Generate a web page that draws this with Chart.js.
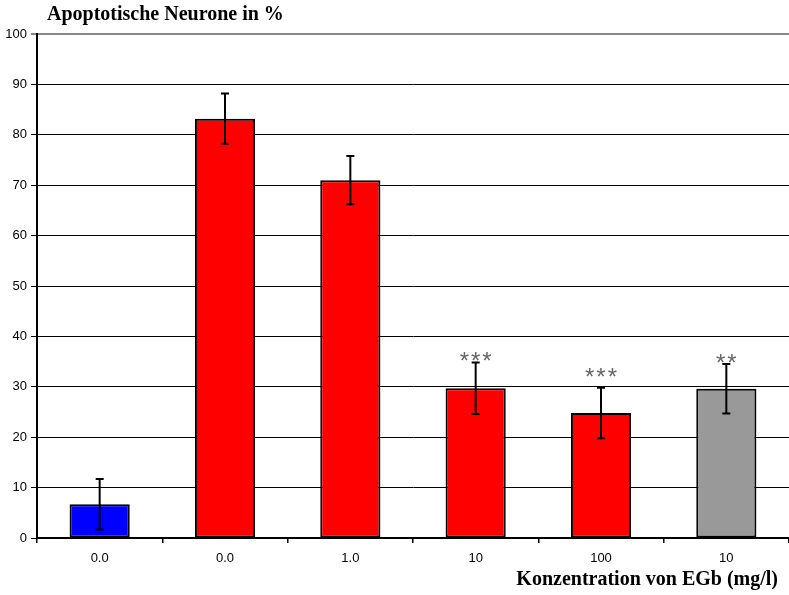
<!DOCTYPE html>
<html>
<head>
<meta charset="utf-8">
<script src="https://cdn.jsdelivr.net/npm/chart.js@4.4.1/dist/chart.umd.min.js"></script>
<style>
  html, body { margin: 0; padding: 0; background: #fff; }
  #wrap { width: 789px; height: 595px; }
</style>
</head>
<body>
<div id="wrap"><canvas id="chart" width="789" height="595"></canvas></div>
<script>
// data
const categories = ['0.0', '0.0', '1.0', '10', '100', '10'];
const values = [6.7, 83.2, 71.0, 29.7, 24.8, 29.6];
const errors = [5.0, 5.0, 4.8, 5.1, 5.0, 4.9];
const barColors = ['#0000ff', '#ff0000', '#ff0000', '#ff0000', '#ff0000', '#999999'];
const stars = ['', '', '', '***', '***', '**'];
const starLevels = [0, 0, 0, 35.8, 32.6, 35.5];
const yTicks = [0, 10, 20, 30, 40, 50, 60, 70, 80, 90, 100];

const yTitle = 'Apoptotische Neurone in %';
const xTitle = 'Konzentration von EGb (mg/l)';

const extrasPlugin = {
  id: 'extras',
  afterDatasetsDraw(chart) {
    const ctx = chart.ctx;
    const y = chart.scales.y;
    const bars = chart.getDatasetMeta(0).data;
    ctx.save();
    ctx.strokeStyle = '#000';
    ctx.lineWidth = 2;
    bars.forEach((bar, i) => {
      const top = y.getPixelForValue(values[i] + errors[i]);
      const bot = y.getPixelForValue(values[i] - errors[i]);
      ctx.beginPath();
      ctx.moveTo(bar.x, top);
      ctx.lineTo(bar.x, bot);
      ctx.moveTo(bar.x - 4, top);
      ctx.lineTo(bar.x + 4, top);
      ctx.moveTo(bar.x - 4, bot);
      ctx.lineTo(bar.x + 4, bot);
      ctx.stroke();
    });
    // significance stars
    ctx.fillStyle = '#666';
    ctx.font = '24px "Liberation Sans"';
    ctx.letterSpacing = '2px';
    ctx.textAlign = 'center';
    ctx.textBaseline = 'top';
    bars.forEach((bar, i) => {
      if (stars[i]) ctx.fillText(stars[i], bar.x + 1, y.getPixelForValue(starLevels[i]) - 7);
    });
    ctx.letterSpacing = '0px';
    ctx.fillStyle = '#000';
    ctx.font = 'bold 20px "Liberation Serif"';
    ctx.textBaseline = 'alphabetic';
    ctx.textAlign = 'left';
    ctx.fillText(yTitle, 47, 20);
    ctx.textAlign = 'right';
    ctx.fillText(xTitle, 778, 585);
    ctx.restore();
  }
};

new Chart(document.getElementById('chart'), {
  type: 'bar',
  data: {
    labels: categories,
    datasets: [{
      data: values,
      backgroundColor: barColors,
      borderColor: '#000',
      borderWidth: 2,
      borderSkipped: false,
      barPercentage: 0.48,
      categoryPercentage: 1.0
    }]
  },
  options: {
    responsive: false,
    animation: false,
    devicePixelRatio: 1,
    layout: { padding: { top: 34, left: 0, right: 0, bottom: 0 } },
    plugins: { legend: { display: false }, tooltip: { enabled: false }, title: { display: false } },
    scales: {
      x: {
        grid: { offset: true, drawOnChartArea: false, drawTicks: true, tickLength: 5, color: '#000', lineWidth: 1.5 },
        border: { color: '#000', width: 2 },
        ticks: { color: '#000', font: { family: 'Liberation Sans', size: 13 }, padding: 8 },
        afterFit(scale) { scale.height = 57; }
      },
      y: {
        min: 0,
        max: 100,
        afterBuildTicks(scale) { scale.ticks = yTicks.map(v => ({ value: v })); },
        grid: {
          color: c => (c.tick && c.tick.value === 100) ? '#888' : '#000',
          lineWidth: c => (c.tick && c.tick.value === 100) ? 2 : 1,
          tickLength: 6
        },
        border: { color: '#000', width: 2 },
        ticks: { color: '#000', font: { family: 'Liberation Sans', size: 13 }, padding: 4 },
        afterFit(scale) { scale.width = 37; }
      }
    }
  },
  plugins: [extrasPlugin]
});
</script>
</body>
</html>
